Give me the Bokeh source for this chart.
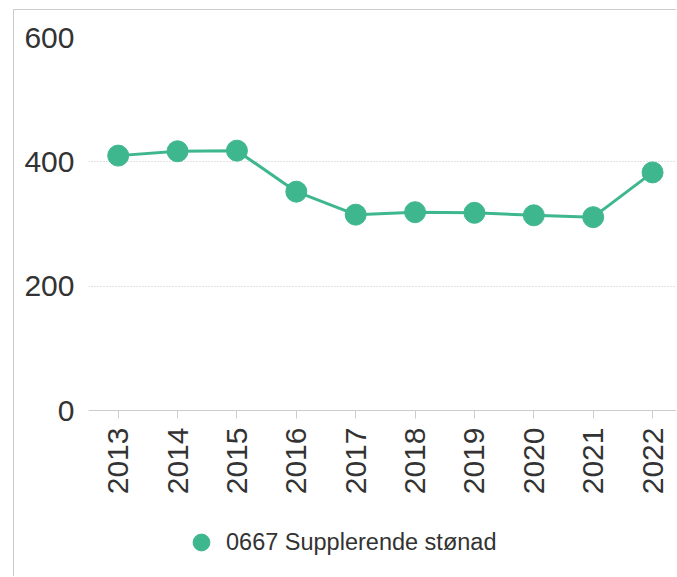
import math
from bokeh.plotting import figure
from bokeh.models import Range1d, FixedTicker, Legend, LegendItem
from bokeh.embed import file_html
from bokeh.resources import INLINE

years = [2013, 2014, 2015, 2016, 2017, 2018, 2019, 2020, 2021, 2022]
values = [410, 417, 418, 352, 315, 319, 318, 314, 311, 383]
y_ticks = [0, 200, 400, 600]
series_name = "0667 Supplerende stønad"

COLOR = "#3fb78e"
TEXT = "#333333"
FONT = "Liberation Sans"

# frame: 0 -> 373px below 600; extra room below 0 holds the axis labels and legend
p = figure(
    width=663, height=567,
    x_range=Range1d(2012.5, 2022.42), y_range=Range1d(-268.6, 600),
    output_backend="svg", toolbar_location=None,
    min_border_left=74, min_border_right=0, min_border_top=27, min_border_bottom=0,
)
p.styles = {"border-top": "1px solid #cccccc", "border-left": "1px solid #cccccc",
            "margin-left": "13px", "margin-top": "9px"}
p.outline_line_color = None
p.background_fill_color = "white"
p.border_fill_color = "white"

p.xgrid.visible = False
p.ygrid.ticker = FixedTicker(ticks=y_ticks)
p.ygrid.grid_line_color = "#c4c4c4"
p.ygrid.grid_line_dash = "1 2"
p.ygrid.grid_line_width = 1

xa = p.xaxis[0]
xa.fixed_location = 0
xa.ticker = FixedTicker(ticks=years)
xa.major_label_overrides = {y: str(y) for y in years}
xa.major_label_orientation = math.pi / 2
xa.major_label_text_font = FONT
xa.major_label_text_font_size = "30px"
xa.major_label_text_color = TEXT
xa.major_label_standoff = 9
xa.major_tick_out = 8
xa.major_tick_in = 0
xa.major_tick_line_color = "#cccccc"
xa.minor_tick_line_color = None
xa.axis_line_color = "#cccccc"

ya = p.yaxis[0]
ya.ticker = FixedTicker(ticks=y_ticks)
ya.major_label_text_font = FONT
ya.major_label_text_font_size = "30px"
ya.major_label_text_color = TEXT
ya.major_label_standoff = 14
ya.major_tick_out = 0
ya.major_tick_in = 0
ya.major_tick_line_color = None
ya.minor_tick_line_color = None
ya.axis_line_color = None

p.line(years, values, line_width=3, line_color=COLOR)
sc = p.scatter(years, values, size=21, fill_color=COLOR, line_color=COLOR)

legend = Legend(items=[LegendItem(label=series_name, renderers=[sc])],
                location=(92, 14))
legend.glyph_width = 42
legend.glyph_height = 42
legend.label_standoff = 4
legend.padding = 0
legend.margin = 0
legend.border_line_color = None
legend.background_fill_alpha = 0
legend.label_text_font = FONT
legend.label_text_font_size = "23.5px"
legend.label_text_color = TEXT
p.add_layout(legend, "center")

open("out.html", "w").write(file_html(p, INLINE))
